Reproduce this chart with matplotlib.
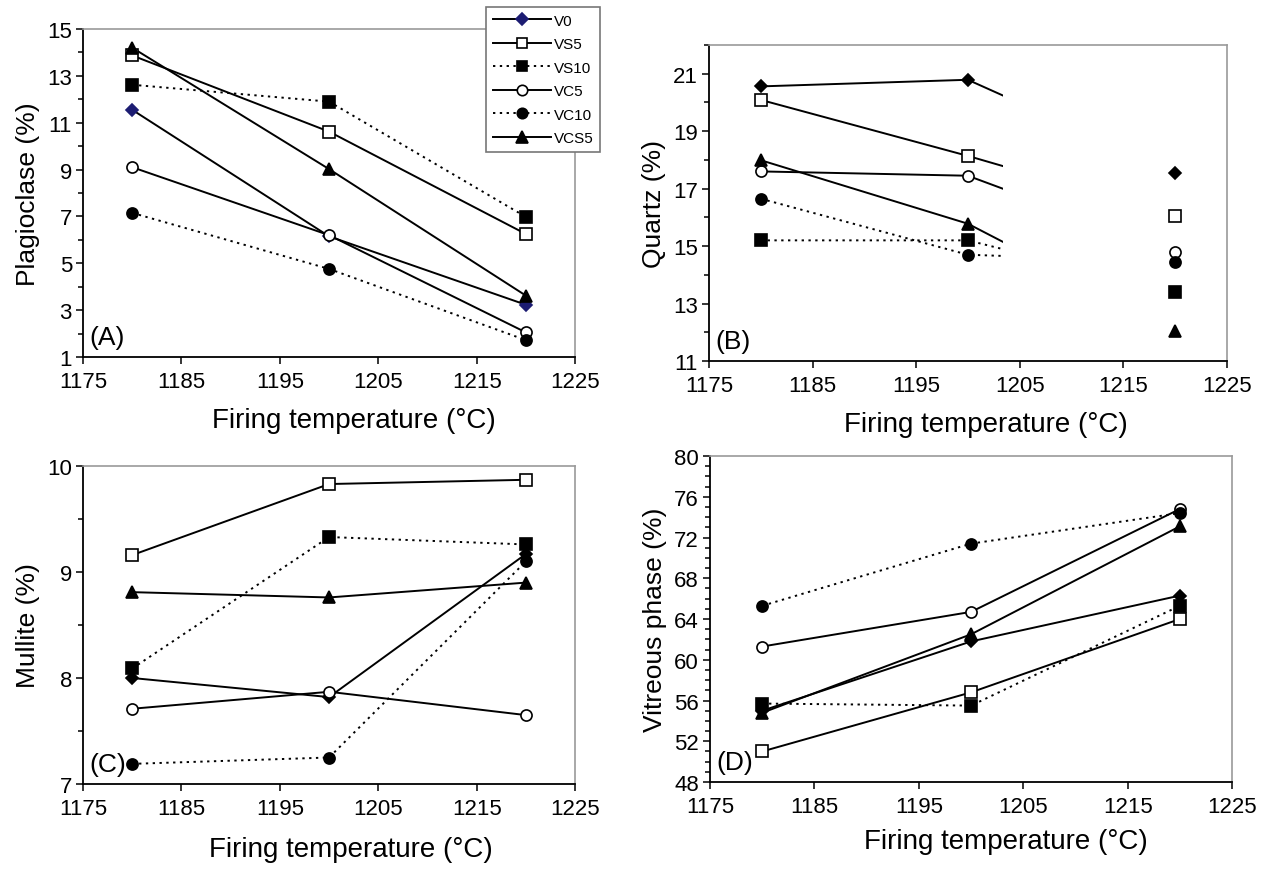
import matplotlib
matplotlib.use("Agg")
import matplotlib.pyplot as plt
from matplotlib.patches import Rectangle
from matplotlib.lines import Line2D
from matplotlib.ticker import MultipleLocator

plt.rcParams['font.family'] = ['Liberation Sans', 'DejaVu Sans']

# data
temps = [1180, 1200, 1220]
series = ['V0', 'VS5', 'VS10', 'VC5', 'VC10', 'VCS5']

plagioclase = [
    [11.55, 6.15, 3.23],   # V0
    [13.87, 10.62, 6.25],  # VS5
    [12.62, 11.90, 6.98],  # VS10
    [9.10, 6.20, 2.05],    # VC5
    [7.15, 4.76, 1.72],    # VC10
    [14.20, 9.02, 3.62],   # VCS5
]
quartz = [
    [20.56, 20.79, 17.56],
    [20.09, 18.14, 16.05],
    [15.20, 15.20, 13.40],
    [17.60, 17.45, 14.78],
    [16.65, 14.70, 14.45],
    [17.99, 15.78, 12.05],
]
mullite = [
    [8.00, 7.82, 9.17],
    [9.16, 9.83, 9.87],
    [8.09, 9.33, 9.26],
    [7.71, 7.87, 7.65],
    [7.19, 7.25, 9.10],
    [8.81, 8.76, 8.90],
]
vitreous = [
    [55.0, 61.8, 66.3],
    [51.0, 56.8, 64.0],
    [55.7, 55.5, 65.3],
    [61.3, 64.7, 74.8],
    [65.3, 71.4, 74.4],
    [54.8, 62.5, 73.1],
]

markers = ['D', 's', 's', 'o', 'o', '^']
filled = [True, False, True, False, True, True]
dotted = [False, False, True, False, True, False]
sizes = [6.5, 8, 8, 8, 8, 8.5]
dots = (0, (1.2, 2.3))


def draw(ax, values, v0_color='black', clip_x=None):
    for i, vals in enumerate(values):
        ls = dots if dotted[i] else '-'
        line, = ax.plot(temps, vals, color='black', lw=1.4, ls=ls, zorder=2)
        if clip_x is not None:
            line.set_clip_path(Rectangle((1175, -100), clip_x - 1175, 300,
                                         transform=ax.transData))
        mc = v0_color if i == 0 else 'black'
        ax.plot(temps, vals, ls='none', marker=markers[i], ms=sizes[i],
                mec=mc, mfc=mc if filled[i] else 'white', mew=1.2, zorder=3)


def style(ax, ylim, yticks, minor, ylabel, letter, xlab_x, xlab_pad):
    ax.set_xlim(1175, 1225)
    ax.set_xticks(range(1175, 1226, 10))
    ax.set_ylim(*ylim)
    ax.set_yticks(yticks)
    ax.yaxis.set_minor_locator(MultipleLocator(minor))
    ax.tick_params(axis='both', which='major', direction='out', length=5,
                   width=1.1, labelsize=16, pad=3)
    ax.tick_params(axis='x', which='major', pad=5)
    ax.tick_params(axis='y', which='minor', direction='out', length=3.5, width=1.1)
    ax.spines['left'].set_linewidth(1.3)
    ax.spines['bottom'].set_linewidth(1.3)
    for s in ['top', 'right']:
        ax.spines[s].set_color('#9a9a9a')
        ax.spines[s].set_linewidth(1.2)
    ax.set_xlabel('Firing temperature (°C)', fontsize=20, labelpad=xlab_pad)
    ax.xaxis.label.set_x(xlab_x)
    ax.set_ylabel(ylabel, fontsize=19, labelpad=5)
    ax.text(0.012, 0.025, letter, transform=ax.transAxes, fontsize=19,
            ha='left', va='bottom')


fig = plt.figure(figsize=(12.78, 8.70), dpi=100)
axA = fig.add_axes([0.065, 0.5885, 0.385, 0.377])
axB = fig.add_axes([0.5548, 0.5839, 0.405, 0.3632])
axC = fig.add_axes([0.065, 0.0977, 0.385, 0.3655])
axD = fig.add_axes([0.5556, 0.100, 0.4085, 0.3747])

draw(axA, plagioclase, v0_color='#1c1c72')
style(axA, (1, 15), range(1, 16, 2), 1, 'Plagioclase (%)', '(A)', 0.55, 11)

draw(axB, quartz, clip_x=1203.4)
style(axB, (11, 22), range(11, 22, 2), 1, 'Quartz (%)', '(B)', 0.535, 11)

draw(axC, mullite)
style(axC, (7, 10), range(7, 11), 0.5, 'Mullite (%)', '(C)', 0.544, 12)

draw(axD, vitreous)
style(axD, (48, 80), range(48, 81, 4), 1, 'Vitreous phase (%)', '(D)', 0.567, 8)

# legend box sitting over the top right corner of panel A
handles = []
for i, name in enumerate(series):
    mc = '#1c1c72' if i == 0 else 'black'
    handles.append(Line2D([], [], color='black', lw=1.4,
                          ls=dots if dotted[i] else '-',
                          marker=markers[i], ms=sizes[i] - 0.5, mec=mc,
                          mfc=mc if filled[i] else 'white', mew=1.2))
leg = fig.legend(handles, series, loc='upper left',
                 bbox_to_anchor=(0.380, 0.991), fontsize=11,
                 handlelength=3.8, handletextpad=0.2, borderpad=0.45,
                 labelspacing=0.62, fancybox=False, framealpha=1,
                 edgecolor='#777777', borderaxespad=0)
leg.get_frame().set_linewidth(1.2)

fig.savefig('out.png', dpi=100)
